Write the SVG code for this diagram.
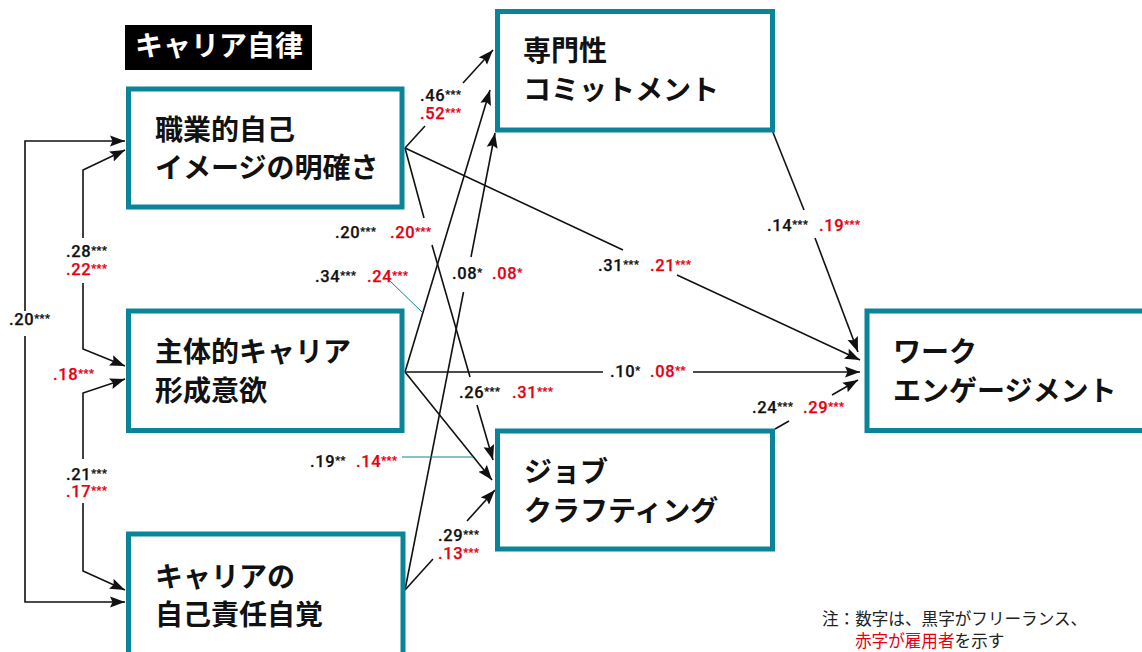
<svg xmlns="http://www.w3.org/2000/svg" width="1142" height="652" viewBox="0 0 1142 652">
<style>
.box{fill:#fff;stroke:#0a8499;stroke-width:5}
.nt{font-family:"Noto Sans CJK JP",sans-serif;font-weight:700;font-size:28px;fill:#111}
.ln{stroke:#111;stroke-width:1.6;fill:none}
.arr{marker-end:url(#ah)}
.ld{stroke:#0a8499;stroke-width:1;fill:none}
.lb{font-family:Roboto,"Liberation Sans",sans-serif;font-size:16.5px;font-weight:500;letter-spacing:0.6px;stroke-width:0.25px}
.k{fill:#111;stroke:#111}
.r{fill:#e60012;stroke:#e60012}
.st{font-size:11px}
.note{font-family:"Noto Sans CJK JP",sans-serif;font-size:16.6px;fill:#222}
</style>
<defs>
<marker id="ah" markerUnits="userSpaceOnUse" markerWidth="15" markerHeight="12" refX="15" refY="6" orient="auto">
<path d="M0,0.5 L15,6 L0,11.5 L2.5,6 z" fill="#111"/>
</marker>
</defs>
<rect width="1142" height="652" fill="#fff"/>

<g id="title">
<rect x="125" y="25" width="187" height="45" fill="#000"/>
<text x="135" y="56" class="nt" style="fill:#fff">キャリア自律</text>
</g>

<g id="connectors">
<path class="ln arr" d="M25,311 V141 H125"/>
<path class="ln arr" d="M25,336 V602 H125"/>
<path class="ln arr" d="M83,238 V170 L125,150"/>
<path class="ln arr" d="M83,283 V349 L125,366"/>
<path class="ln arr" d="M83,459 V393 L125,379"/>
<path class="ln arr" d="M83,503 V571 L125,590"/>
<path class="ln" d="M405,148 L425,126"/>
<path class="ln arr" d="M463,83 L493,50"/>
<path class="ln" d="M405,148 L623,250"/>
<path class="ln arr" d="M677,275 L860,360"/>
<path class="ln" d="M405,148 L424,218"/>
<path class="ln" d="M432,245 L470,377"/>
<path class="ln arr" d="M477,405 L493,460"/>
<path class="ln arr" d="M405,372 L490,90"/>
<path class="ln" d="M405,372 L603,372"/>
<path class="ln arr" d="M693,372 L860,372"/>
<path class="ln arr" d="M405,372 L492,480"/>
<path class="ln" d="M405,590 L463.5,292"/>
<path class="ln arr" d="M471,257 L495,133"/>
<path class="ln" d="M405,590 L433,559"/>
<path class="ln arr" d="M467,521 L495,490"/>
<path class="ln" d="M772,130 L804,210"/>
<path class="ln arr" d="M815,238 L858,352"/>
<path class="ln" d="M775,429 L789,421"/>
<path class="ln arr" d="M832,395 L858,380"/>
<path class="ld" d="M389,280 L422,312"/>
<path class="ld" d="M402,457 L473,457"/>
</g>

<g id="labels">
<text class="lb k" x="9" y="325">.20<tspan class="st" dy="-3">***</tspan></text>
<text class="lb k" x="66" y="257">.28<tspan class="st" dy="-3">***</tspan></text>
<text class="lb r" x="66" y="275">.22<tspan class="st" dy="-3">***</tspan></text>
<text class="lb r" x="53" y="380">.18<tspan class="st" dy="-3">***</tspan></text>
<text class="lb k" x="66" y="480">.21<tspan class="st" dy="-3">***</tspan></text>
<text class="lb r" x="66" y="497">.17<tspan class="st" dy="-3">***</tspan></text>
<text class="lb k" x="420" y="101">.46<tspan class="st" dy="-3">***</tspan></text>
<text class="lb r" x="420" y="119">.52<tspan class="st" dy="-3">***</tspan></text>
<text class="lb k" x="335" y="238">.20<tspan class="st" dy="-3">***</tspan></text>
<text class="lb r" x="390" y="238">.20<tspan class="st" dy="-3">***</tspan></text>
<text class="lb k" x="315" y="282">.34<tspan class="st" dy="-3">***</tspan></text>
<text class="lb r" x="367" y="282">.24<tspan class="st" dy="-3">***</tspan></text>
<text class="lb k" x="452" y="279">.08<tspan class="st" dy="-3">*</tspan></text>
<text class="lb r" x="492" y="279">.08<tspan class="st" dy="-3">*</tspan></text>
<text class="lb k" x="598" y="271">.31<tspan class="st" dy="-3">***</tspan></text>
<text class="lb r" x="650" y="271">.21<tspan class="st" dy="-3">***</tspan></text>
<text class="lb k" x="767" y="231">.14<tspan class="st" dy="-3">***</tspan></text>
<text class="lb r" x="819" y="231">.19<tspan class="st" dy="-3">***</tspan></text>
<text class="lb k" x="610" y="377">.10<tspan class="st" dy="-3">*</tspan></text>
<text class="lb r" x="650" y="377">.08<tspan class="st" dy="-3">**</tspan></text>
<text class="lb k" x="459" y="398">.26<tspan class="st" dy="-3">***</tspan></text>
<text class="lb r" x="512" y="398">.31<tspan class="st" dy="-3">***</tspan></text>
<text class="lb k" x="310" y="467">.19<tspan class="st" dy="-3">**</tspan></text>
<text class="lb r" x="356" y="467">.14<tspan class="st" dy="-3">***</tspan></text>
<text class="lb k" x="438" y="541">.29<tspan class="st" dy="-3">***</tspan></text>
<text class="lb r" x="438" y="559">.13<tspan class="st" dy="-3">***</tspan></text>
<text class="lb k" x="752" y="413">.24<tspan class="st" dy="-3">***</tspan></text>
<text class="lb r" x="803" y="413">.29<tspan class="st" dy="-3">***</tspan></text>
</g>

<g id="n1">
<rect class="box" x="128.5" y="89" width="273.5" height="118"/>
<text class="nt" x="155" y="140">職業的自己</text>
<text class="nt" x="155" y="178">イメージの明確さ</text>
</g>
<g id="n2">
<rect class="box" x="128.5" y="311" width="273.5" height="119.5"/>
<text class="nt" x="155" y="362">主体的キャリア</text>
<text class="nt" x="155" y="401">形成意欲</text>
</g>
<g id="n3">
<rect class="box" x="128.5" y="534" width="274.5" height="130"/>
<text class="nt" x="155" y="587">キャリアの</text>
<text class="nt" x="155" y="625">自己責任自覚</text>
</g>
<g id="n4">
<rect class="box" x="497.5" y="11.5" width="275" height="118.5"/>
<text class="nt" x="523" y="61">専門性</text>
<text class="nt" x="523" y="100">コミットメント</text>
</g>
<g id="n5">
<rect class="box" x="497.5" y="431" width="275" height="118"/>
<text class="nt" x="524" y="482">ジョブ</text>
<text class="nt" x="524" y="521">クラフティング</text>
</g>
<g id="n6">
<rect class="box" x="867" y="311" width="290" height="119.5"/>
<text class="nt" x="893" y="362">ワーク</text>
<text class="nt" x="893" y="401">エンゲージメント</text>
</g>

<g id="note">
<text class="note" x="822" y="625">注：数字は、黒字がフリーランス、</text>
<text class="note" x="855" y="647"><tspan fill="#e60012">赤字が雇用者</tspan>を示す</text>
</g>
</svg>
